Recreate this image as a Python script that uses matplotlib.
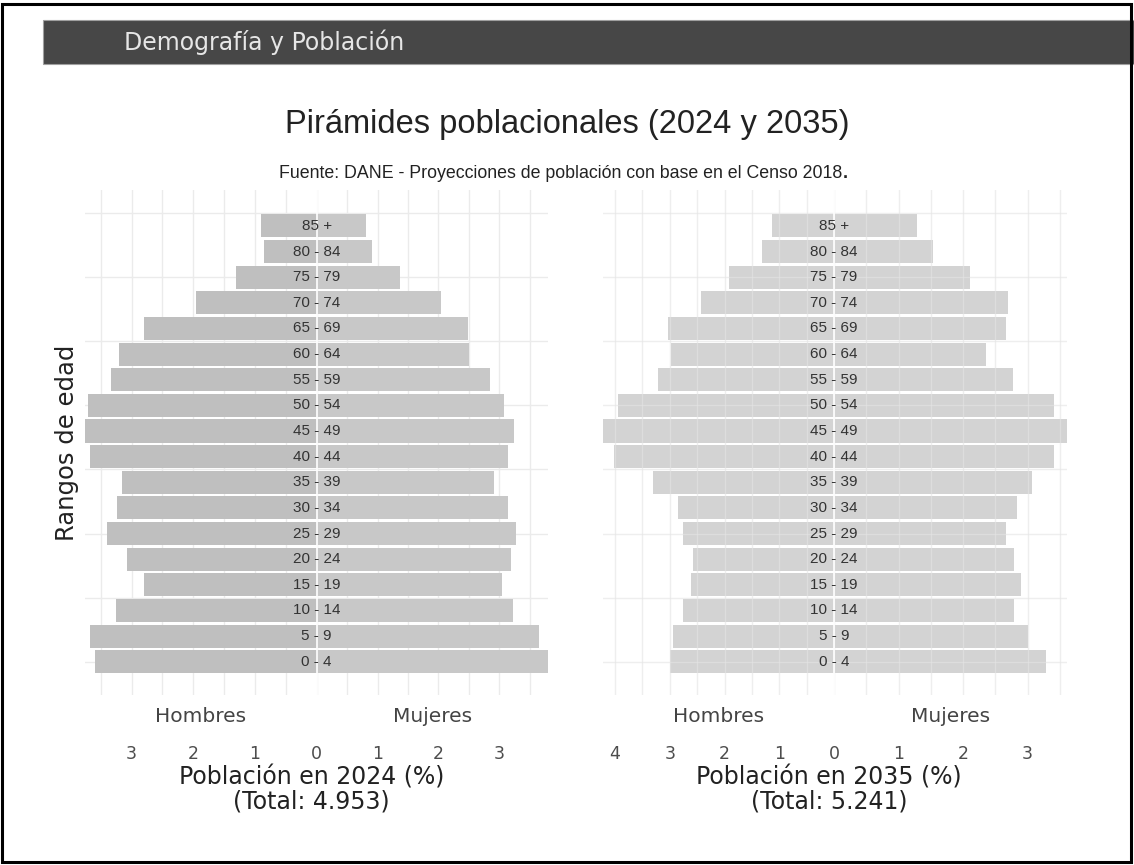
import matplotlib
matplotlib.use('Agg')
import matplotlib.pyplot as plt
import numpy as np
from matplotlib.patches import Rectangle
from matplotlib.ticker import MultipleLocator, FixedLocator

plt.rcParams['font.family'] = 'DejaVu Sans'

W, H = 1134, 865

age_groups = ['0 - 4', '5 - 9', '10 - 14', '15 - 19', '20 - 24', '25 - 29',
              '30 - 34', '35 - 39', '40 - 44', '45 - 49', '50 - 54', '55 - 59',
              '60 - 64', '65 - 69', '70 - 74', '75 - 79', '80 - 84', '85 +']

hombres_2024 = [3.59, 3.67, 3.26, 2.80, 3.07, 3.40, 3.24, 3.15, 3.67,
                3.78, 3.70, 3.34, 3.21, 2.80, 1.96, 1.31, 0.85, 0.91]
mujeres_2024 = [3.82, 3.65, 3.22, 3.05, 3.19, 3.27, 3.14, 2.92, 3.14,
                3.24, 3.08, 2.84, 2.51, 2.48, 2.05, 1.37, 0.91, 0.81]

hombres_2035 = [3.00, 2.95, 2.76, 2.61, 2.58, 2.76, 2.85, 3.30, 4.01,
                4.22, 3.94, 3.21, 2.97, 3.04, 2.43, 1.92, 1.31, 1.13]
mujeres_2035 = [3.28, 3.00, 2.79, 2.89, 2.79, 2.66, 2.84, 3.07, 3.41,
                3.61, 3.41, 2.77, 2.36, 2.66, 2.69, 2.10, 1.53, 1.28]

totales = ['4.953', '5.241']
anios = ['2024', '2035']

PLOT_TOP, PLOT_BOTTOM = 190, 695


def fx(px):
    return px / W


def fy(py):
    return 1 - py / H


fig = plt.figure(figsize=(W / 100, H / 100), dpi=100)


def add_axes(x0, x1):
    return fig.add_axes([fx(x0), fy(PLOT_BOTTOM), (x1 - x0) / W,
                         (PLOT_BOTTOM - PLOT_TOP) / H])


def draw_half(ax, values, color, xmax, ticks, invert, grid_on_top):
    y = np.arange(len(values))
    ax.barh(y, values, height=0.9, color=color, zorder=1)
    if invert:
        ax.set_xlim(xmax, 0)
    else:
        ax.set_xlim(0, xmax)
    ax.set_ylim(-1.3, 18.4)
    ax.xaxis.set_major_locator(FixedLocator(ticks))
    ax.xaxis.set_minor_locator(MultipleLocator(0.5))
    ax.yaxis.set_major_locator(MultipleLocator(2.5))
    ax.tick_params(axis='x', which='both', length=0, pad=36,
                   labelsize=12.5, labelcolor='#4d4d4d')
    ax.tick_params(axis='y', length=0, labelleft=False)
    ax.set_axisbelow(not grid_on_top)
    if grid_on_top:
        ax.grid(True, which='both', color='#e4e4e4', lw=1.0, alpha=0.6)
    else:
        ax.grid(True, which='both', color='#ebebeb', lw=1.0)
    for s in ax.spines.values():
        s.set_visible(False)
    ax.patch.set_alpha(0)


# (male left, center, female right, male xmax, female xmax, male ticks)
paneles = [
    (85, 316.7, 548, 3.755, 3.80, [0, 1, 2, 3]),
    (603, 834, 1067, 4.22, 3.61, [0, 1, 2, 3, 4]),
]
datos = [(hombres_2024, mujeres_2024), (hombres_2035, mujeres_2035)]
colores = [('#bfbfbf', '#c8c8c8'), ('#d3d3d3', '#d3d3d3')]

for i, (x0, xc, x1, xm, xf, mticks) in enumerate(paneles):
    hom, muj = datos[i]
    ax_m = add_axes(x0, xc)
    ax_f = add_axes(xc, x1)
    draw_half(ax_m, hom, colores[i][0], xm, mticks, True, i == 1)
    draw_half(ax_f, muj, colores[i][1], xf, [1, 2, 3], False, i == 1)
    ax_f.axvline(0, color='white', lw=1.2, zorder=3, clip_on=False)
    for j, lab in enumerate(age_groups):
        ax_f.text(0, j, lab, ha='center', va='center', fontsize=11,
                  family='Liberation Sans', color='#333333', zorder=4,
                  clip_on=False)
    fig.text(fx((x0 + xc) / 2), fy(716), 'Hombres', ha='center', va='center',
             fontsize=14.5, color='#444444')
    fig.text(fx((xc + x1) / 2), fy(716), 'Mujeres', ha='center', va='center',
             fontsize=14.5, color='#444444')
    fig.text(fx(xc - 5), fy(789),
             'Población en {} (%)\n(Total: {})'.format(anios[i], totales[i]),
             ha='center', va='center', fontsize=17, linespacing=1.0,
             color='#222222')

fig.text(fx(67), fy(443), 'Rangos de edad', rotation=90, ha='center',
         va='center', fontsize=17.5, color='#222222')

# title and source
fig.text(fx(567), fy(125), 'Pirámides poblacionales (2024 y 2035)',
         ha='center', va='center', fontsize=23.5, family='Liberation Sans',
         color='#222222')
fuente = fig.text(fx(561), fy(173),
                  'Fuente: DANE - Proyecciones de población con base en el Censo 2018',
                  ha='center', va='center', fontsize=12.8,
                  family='Liberation Sans', color='#222222')
ax_m.annotate('.', xy=(1, 0), xycoords=fuente, ha='left', va='bottom',
              fontsize=12.8, fontweight='bold', family='Liberation Sans',
              color='#222222', annotation_clip=False)

# header bar
fig.add_artist(Rectangle((fx(43), fy(64)), (W - 43) / W, 44 / H,
                         transform=fig.transFigure, facecolor='#474747',
                         edgecolor='#a0a0a0', lw=0.8))
fig.text(fx(124), fy(42), 'Demografía y Población', ha='left', va='center',
         fontsize=17, color='#e6e6e6')

# outer frame
fig.add_artist(Rectangle((fx(2), fy(862)), (1131 - 2) / W, (862 - 4) / H,
                         transform=fig.transFigure, fill=False,
                         edgecolor='black', lw=2.2))

fig.savefig('out.png', dpi=100)
